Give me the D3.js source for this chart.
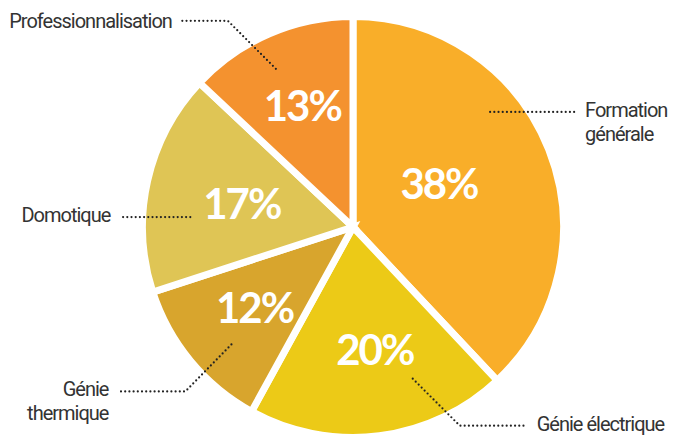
<!DOCTYPE html>
<html>
<head>
<meta charset="utf-8">
<script src="https://cdn.jsdelivr.net/npm/d3@7"></script>
<style>
  html, body { margin: 0; padding: 0; background: #fff; }
  svg { display: block; }
  .cat-lbl { font-family: Roboto, "Open Sans", sans-serif; font-size: 20px; fill: #333; letter-spacing: -1px; }
  .pct-lbl { font-family: Lato, Inter, sans-serif; font-weight: 700; font-size: 42px; fill: #fff; letter-spacing: -2px; }
</style>
</head>
<body>
<svg id="chart"></svg>
<script>
// ── Data ────────────────────────────────────────────────────────────────────
const CATEGORIES = ["Formation générale", "Génie électrique", "Génie thermique", "Domotique", "Professionnalisation"];
const VALUES     = [38, 20, 12, 17, 13];
const COLORS     = ["#f9ae29", "#ecca17", "#d8a52d", "#dfc555", "#f4922f"];
// label lines (text may wrap onto two lines)
const LABEL_LINES = [["Formation", "générale"], ["Génie électrique"], ["Génie", "thermique"], ["Domotique"], ["Professionnalisation"]];

// ── Layout (annotation placement only) ──────────────────────────────────────
const VW = 673, VH = 435;
const CX = 353, CY = 227, R = 210.5;
// percent label: angle shift (deg) from slice middle + radius
const PCT_POS = [[-6, 97], [-3, 123], [1, 126], [0, 114], [1, 133]];
// leader: start (angle shift, radius), then relative path points, then label anchor
const LEADERS = [
  { da: -18.4, r: 179, path: [[87, 0]], tx: 8, ty: 5, anchor: "start" },
  { da: -14.3, r: 163, path: [[47, 47], [114, 47]], tx: 10, ty: 5, anchor: "start" },
  { da: -4.4,  r: 169, path: [[-46, 47], [-111, 47]], tx: -12, ty: 5, anchor: "end" },
  { da: -9.1,  r: 163, path: [[-69, 0]], tx: -11, ty: 5, anchor: "end" },
  { da: -2.6,  r: 176, path: [[-48, -48], [-94, -48]], tx: -10, ty: 7, anchor: "end" }
];

const svg = d3.select("#chart").attr("width", VW).attr("height", VH)
  .attr("viewBox", `0 0 ${VW} ${VH}`);
const g = svg.append("g").attr("transform", `translate(${CX},${CY})`);

const rows = CATEGORIES.map((c, i) => ({ cat: c, value: VALUES[i], color: COLORS[i], i }));

const pie = d3.pie().sort(null).value(d => d.value);
const arcs = pie(rows);
const arc = d3.arc().innerRadius(0).outerRadius(R);

const polar = (deg, r) => {
  const a = deg * Math.PI / 180;
  return [Math.sin(a) * r, -Math.cos(a) * r];
};
const midDeg = d => ((d.startAngle + d.endAngle) / 2) * 180 / Math.PI;

// Slices
g.selectAll("path.slice")
  .data(arcs)
  .join("path")
  .attr("class", "slice")
  .attr("d", arc)
  .attr("fill", d => d.data.color)
  .attr("stroke", "#fff")
  .attr("stroke-width", 7)
  .attr("stroke-linejoin", "miter");

// Percent labels
g.selectAll("text.pct-lbl")
  .data(arcs)
  .join("text")
  .attr("class", "pct-lbl")
  .attr("text-anchor", "middle")
  .attr("dominant-baseline", "central")
  .attr("transform", d => {
    const p = PCT_POS[d.data.i];
    const [x, y] = polar(midDeg(d) + p[0], p[1]);
    return `translate(${x},${y + 1})`;
  })
  .text(d => `${d.data.value}%`);

// Leader lines + category labels
arcs.forEach(d => {
  const L = LEADERS[d.data.i];
  const [sx, sy] = polar(midDeg(d) + L.da, L.r);
  const pts = [[sx, sy], ...L.path.map(([dx, dy]) => [sx + dx, sy + dy])];
  const end = pts[pts.length - 1];

  g.append("path")
    .attr("d", d3.line()(pts))
    .attr("fill", "none")
    .attr("stroke", "#222")
    .attr("stroke-width", 2.2)
    .attr("stroke-linecap", "round")
    .attr("stroke-dasharray", "0,4.2");

  const t = g.append("text")
    .attr("class", "cat-lbl")
    .attr("text-anchor", L.anchor)
    .attr("x", end[0] + L.tx)
    .attr("y", end[1] + L.ty);
  LABEL_LINES[d.data.i].forEach((line, k) => {
    t.append("tspan")
      .attr("x", end[0] + L.tx)
      .attr("dy", k === 0 ? 0 : 24)
      .text(line);
  });
});
</script>
</body>
</html>
